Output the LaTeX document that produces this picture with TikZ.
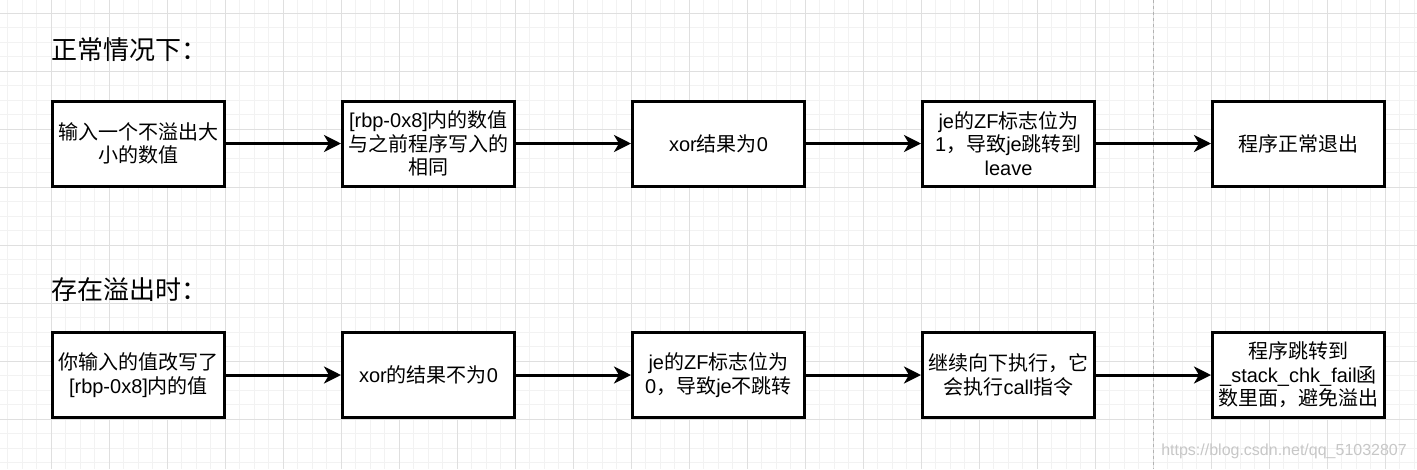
\documentclass[tikz,border=0pt]{standalone}
\usepackage{fontspec}
\setmainfont{Liberation Sans}
\newfontfamily\cjk{Noto Sans CJK SC}
\usetikzlibrary{arrows.meta}
\definecolor{gridminor}{HTML}{F2F2F2}
\definecolor{gridmajor}{HTML}{DFDFDF}
\begin{document}
\begin{tikzpicture}[x=1pt,y=-1pt,
  box/.style={draw=black, line width=3pt, fill=white, minimum width=172pt, minimum height=85pt,
    align=center, inner sep=2pt, font=\fontsize{20}{23.5}\selectfont},
  title/.style={anchor=west, inner sep=0pt, font=\fontsize{26}{30}\selectfont},
  flow/.style={line width=3pt, -{Stealth[length=17pt,width=17pt,inset=5pt]}}]
\useasboundingbox (0,0) rectangle (1417,469);
\fill[white] (0,0) rectangle (1417,469);
% grid
\foreach \i in {0,...,98} { \draw[gridminor, line width=1pt] ({-7+14.5*\i},0) -- ({-7+14.5*\i},469); }
\foreach \j in {0,...,32} { \draw[gridminor, line width=1pt] (0,{-1.5+14.5*\j}) -- (1417,{-1.5+14.5*\j}); }
\foreach \i in {0,...,25} { \draw[gridmajor, line width=1pt] ({-7+58*\i},0) -- ({-7+58*\i},469); }
\foreach \j in {0,...,8} { \draw[gridmajor, line width=1pt] (0,{13+58*\j}) -- (1417,{13+58*\j}); }
% dashed divider
\draw[black!30, line width=1pt, dash pattern=on 3pt off 3pt] (1153,0) -- (1153,469);
% titles
\node[title] (t1) at (51,50) {\cjk 正常情况下：};
\node[title] (t2) at (51,290) {\cjk 存在溢出时：};
% row 1
\node[box] (a1) at (138.5,143.5) {{\cjk 输入一个不溢出大}\\{\cjk 小的数值}};
\node[box] (a2) at (428.5,143.5) {[rbp-0x8]{\cjk 内的数值}\\{\cjk 与之前程序写入的}\\{\cjk 相同}};
\node[box] (a3) at (718.5,143.5) {xor{\cjk 结果为}0};
\node[box] (a4) at (1008.5,143.5) {je{\cjk 的}ZF{\cjk 标志位为}\\1{\cjk ，导致}je{\cjk 跳转到}\\leave};
\node[box] (a5) at (1298.5,143.5) {{\cjk 程序正常退出}};
% row 2
\node[box] (b1) at (138.5,375) {{\cjk 你输入的值改写了}\\{}[rbp-0x8]{\cjk 内的值}};
\node[box] (b2) at (428.5,375) {xor{\cjk 的结果不为}0};
\node[box] (b3) at (718.5,375) {je{\cjk 的}ZF{\cjk 标志位为}\\0{\cjk ，导致}je{\cjk 不跳转}};
\node[box] (b4) at (1008.5,375) {{\cjk 继续向下执行，它}\\{\cjk 会执行}call{\cjk 指令}};
\node[box] (b5) at (1298.5,375) {{\cjk 程序跳转到}\\\_stack\_chk\_fail{\cjk 函}\\{\cjk 数里面，避免溢出}};
% arrows
\draw[flow] (a1) -- (a2);
\draw[flow] (a2) -- (a3);
\draw[flow] (a3) -- (a4);
\draw[flow] (a4) -- (a5);
\draw[flow] (b1) -- (b2);
\draw[flow] (b2) -- (b3);
\draw[flow] (b3) -- (b4);
\draw[flow] (b4) -- (b5);
% watermark
\node[anchor=east, inner sep=0pt, text=black!22, font=\fontsize{16}{16}\selectfont] (wm) at (1407,451) {https://blog.csdn.net/qq\_51032807};
\end{tikzpicture}
\end{document}
